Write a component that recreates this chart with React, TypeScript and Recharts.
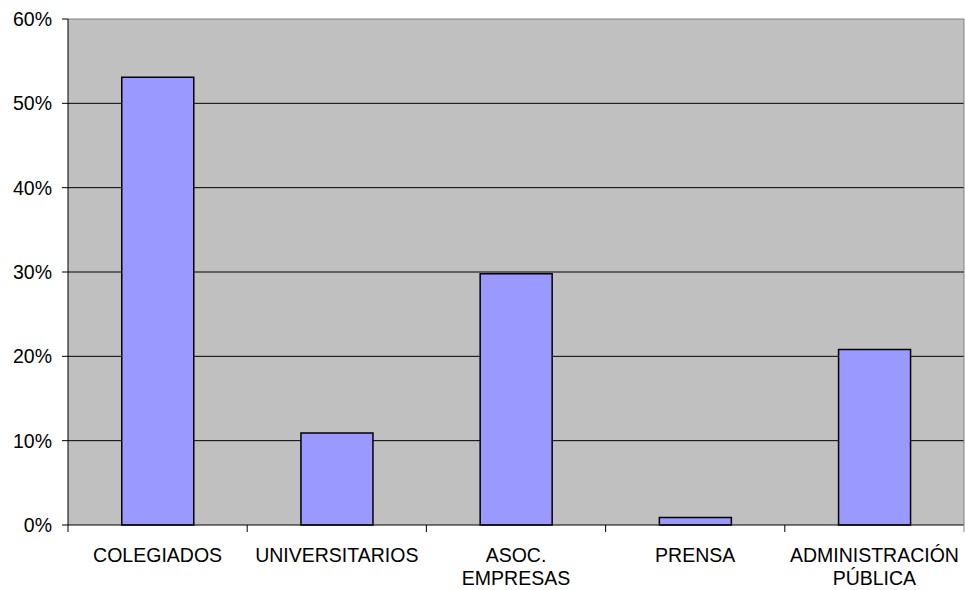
import React from "react";
import { BarChart, Bar, XAxis, YAxis, CartesianGrid, ReferenceLine } from "recharts";

const categories = ["COLEGIADOS", "UNIVERSITARIOS", "ASOC.\nEMPRESAS", "PRENSA", "ADMINISTRACIÓN\nPÚBLICA"];
const values = [53.1, 10.9, 29.8, 0.9, 20.8];
const yTicks = [0, 10, 20, 30, 40, 50, 60];

const data = categories.map((c, i) => ({ name: c, value: values[i] }));

const FONT = "'Liberation Sans', Arial, sans-serif";

const XTick = (props: any) => {
  const { x, y, payload, index, visibleTicksCount } = props;
  const off = payload && payload.offset ? payload.offset : 0;
  const lines = String(payload.value).split("\n");
  const count = visibleTicksCount ?? categories.length;
  return (
    <g>
      <line x1={x - off} x2={x - off} y1={y} y2={y + 7} stroke="#000" strokeWidth={1} />
      {index === count - 1 && (
        <line x1={x + off} x2={x + off} y1={y} y2={y + 7} stroke="#808080" strokeWidth={1} />
      )}
      <text x={x} y={y} textAnchor="middle" fontFamily={FONT} fontSize={19.5} fill="#000">
        {lines.map((l, i) => (
          <tspan key={i} x={x} dy={i === 0 ? 36.5 : 23.5}>
            {l}
          </tspan>
        ))}
      </text>
    </g>
  );
};

export default function App() {
  return (
    <div style={{ position: "absolute", left: 0, top: 0, width: 965, height: 590, background: "#fff" }}>
      <BarChart
        width={965}
        height={590}
        data={data}
        margin={{ top: 19, right: 0, left: 0, bottom: 0 }}
        barCategoryGap="30%"
      >
        <CartesianGrid
          vertical={false}
          horizontal={true}
          stroke="#000"
          strokeOpacity={1}
          fill="#C0C0C0"
          fillOpacity={1}
          horizontalValues={[10, 20, 30, 40, 50]}
          yAxisId="l"
        />
        <XAxis
          dataKey="name"
          height={65}
          interval={0}
          tickLine={false}
          tickSize={0}
          tickMargin={0}
          axisLine={{ stroke: "#000", strokeWidth: 1 }}
          tick={<XTick />}
        />
        <YAxis
          yAxisId="l"
          width={68}
          domain={[0, 60]}
          ticks={yTicks}
          interval={0}
          tickFormatter={(v: number) => `${v}%`}
          tickSize={6}
          tickMargin={10}
          tickLine={{ stroke: "#000" }}
          axisLine={{ stroke: "#000", strokeWidth: 1 }}
          tick={{ fontFamily: FONT, fontSize: 19.5, fill: "#000" }}
        />
        <YAxis
          yAxisId="r"
          orientation="right"
          width={1}
          domain={[0, 60]}
          tick={false}
          tickLine={false}
          axisLine={{ stroke: "#808080", strokeWidth: 1 }}
        />
        <ReferenceLine yAxisId="l" y={60} stroke="#808080" strokeWidth={1} />
        <Bar
          yAxisId="l"
          dataKey="value"
          fill="#9999FF"
          stroke="#000"
          strokeWidth={1.5}
          isAnimationActive={false}
        />
      </BarChart>
    </div>
  );
}
